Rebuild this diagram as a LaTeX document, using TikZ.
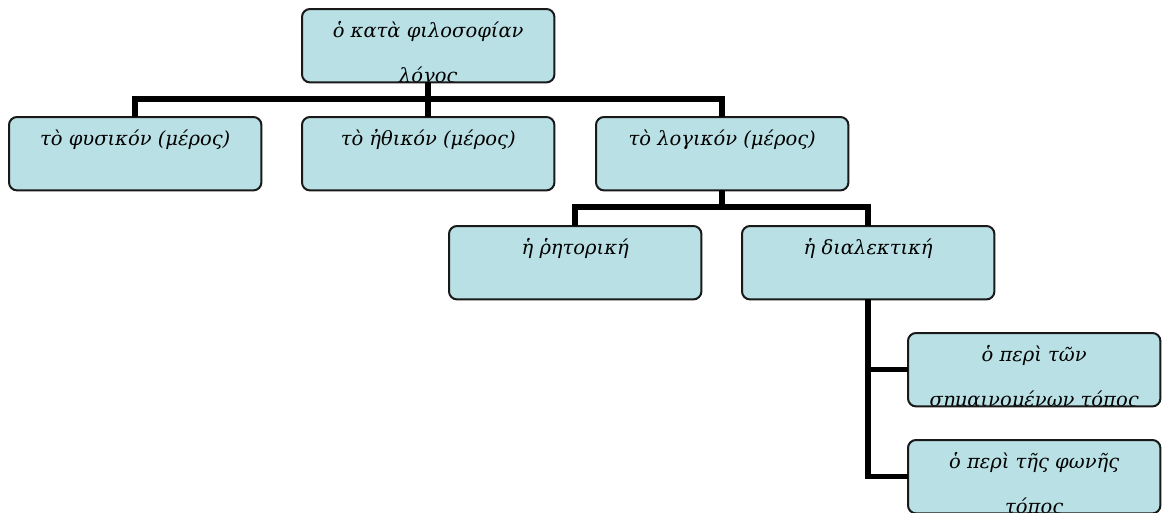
\documentclass[tikz,border=0pt]{standalone}
\usepackage{fontspec}
\setmainfont{DejaVu Serif}
\usetikzlibrary{calc}
\definecolor{boxfill}{RGB}{185,224,228}
\definecolor{boxline}{RGB}{25,25,25}
\tikzset{
  gbox/.style={fill=boxfill, rounded corners=8, minimum width=252, minimum height=73, inner sep=0pt, anchor=north west},
  gborder/.style={draw=boxline, line width=2pt, rounded corners=8},
  gtext/.style={inner sep=0pt, font=\fontsize{19.5}{22}\selectfont\itshape, text=black},
  conn/.style={draw=black, line width=5.5pt}
}
\newcommand{\grbox}[5]{%
  \node[gbox] (#1) at (#2,#3) {};
  \begin{scope}
    \clip[rounded corners=8] (#1.south west) rectangle (#1.north east);
    \node[gtext, anchor=base] (#1-a) at ($(#1.north)+(0,28)$) {#4};
    \node[gtext, anchor=base] (#1-b) at ($(#1.north)+(0,73)$) {#5};
  \end{scope}
  \draw[gborder] (#1.south west) rectangle (#1.north east);
}
\begin{document}
\begin{tikzpicture}[x=1pt, y=-1pt]
\useasboundingbox (0,0) rectangle (1162,512);
\fill[white] (0,0) rectangle (1162,512);
\coordinate (bus1) at (0,99);
\coordinate (bus2) at (0,207);
\grbox{top}{302}{9}{ὁ κατὰ φιλοσοφίαν}{λόγος}
\grbox{b1}{9}{117}{τὸ φυσικόν (μέρος)}{}
\grbox{b2}{302}{117}{τὸ ἠθικόν (μέρος)}{}
\grbox{b3}{596}{117}{τὸ λογικόν (μέρος)}{}
\grbox{rhet}{449}{226}{ἡ ῥητορική}{}
\grbox{dial}{742}{226}{ἡ διαλεκτική}{}
\grbox{pa}{908}{333}{ὁ περὶ τῶν}{σημαινομένων τόπος}
\grbox{pb}{908}{440}{ὁ περὶ τῆς φωνῆς}{τόπος}
\draw[conn] (top.south) -- (b2.north);
\draw[conn] (b1.north) -- (b1.north |- bus1) -- (b3.north |- bus1) -- (b3.north);
\draw[conn] (b3.south) -- (b3.south |- bus2);
\draw[conn] (rhet.north) -- (rhet.north |- bus2) -- (dial.north |- bus2) -- (dial.north);
\draw[conn] (dial.south) |- (pa.west);
\draw[conn] (dial.south) |- (pb.west);
\end{tikzpicture}
\end{document}
